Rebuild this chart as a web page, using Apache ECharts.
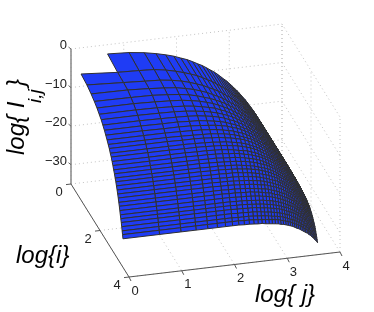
<!DOCTYPE html>
<html><head><meta charset="utf-8">
<style>html,body{margin:0;padding:0;background:#fff}#c{width:374px;height:312px}</style>
<script src="https://cdn.jsdelivr.net/npm/echarts@6/dist/echarts.min.js"></script>
</head><body><div id="c"></div>
<script>
// log(i) for rows i=1..36, log(j) for columns j=1..40
var logI=[0,.693,1.099,1.386,1.609,1.792,1.946,2.079,2.197,2.303,2.398,2.485,2.565,2.639,2.708,2.773,2.833,2.890,2.944,2.996,3.045,3.091,3.135,3.178,3.219,3.258,3.296,3.332,3.367,3.401,3.434,3.466,3.497,3.526,3.555,3.584];
var logJ=[0,.693,1.099,1.386,1.609,1.792,1.946,2.079,2.197,2.303,2.398,2.485,2.565,2.639,2.708,2.773,2.833,2.890,2.944,2.996,3.045,3.091,3.135,3.178,3.219,3.258,3.296,3.332,3.367,3.401,3.434,3.466,3.497,3.526,3.555,3.584,3.611,3.638,3.664,3.689];
// -log I(i,j), one row per i
var depth=[
[null,2.4,2.7,3.2,3.8,4.4,5.0,5.7,6.3,7.0,7.7,8.3,9.0,9.7,10.3,11.0,11.7,12.4,13.0,13.7,14.4,15.1,15.7,16.4,17.1,17.8,18.4,19.1,19.8,20.5,21.1,21.8,22.5,23.2,23.9,24.5,25.2,25.9,26.6,27.3],
[2.3,3.0,3.2,3.4,3.9,4.5,5.1,5.7,6.3,7.0,7.7,8.3,9.0,9.7,10.3,11.0,11.7,12.4,13.0,13.7,14.4,15.1,15.7,16.4,17.1,17.8,18.4,19.1,19.8,20.5,21.1,21.8,22.5,23.2,23.9,24.5,25.2,25.9,26.6,27.3],
[2.7,3.2,3.5,3.7,4.1,4.6,5.2,5.8,6.4,7.1,7.7,8.3,9.0,9.7,10.3,11.0,11.7,12.4,13.0,13.7,14.4,15.1,15.7,16.4,17.1,17.8,18.4,19.1,19.8,20.5,21.1,21.8,22.5,23.2,23.9,24.5,25.2,25.9,26.6,27.3],
[3.3,3.4,3.7,4.0,4.3,4.8,5.3,5.9,6.5,7.2,7.8,8.4,9.1,9.8,10.4,11.0,11.7,12.4,13.0,13.7,14.4,15.1,15.7,16.4,17.1,17.8,18.4,19.1,19.8,20.5,21.1,21.8,22.5,23.2,23.9,24.5,25.2,25.9,26.6,27.3],
[3.9,4.0,4.1,4.4,4.7,5.1,5.6,6.2,6.7,7.3,7.9,8.5,9.2,9.8,10.4,11.1,11.8,12.5,13.1,13.8,14.5,15.1,15.7,16.4,17.1,17.8,18.4,19.1,19.8,20.5,21.1,21.8,22.5,23.2,23.9,24.5,25.2,25.9,26.6,27.3],
[4.5,4.5,4.7,4.9,5.1,5.5,5.9,6.4,6.9,7.5,8.1,8.7,9.3,10.0,10.5,11.2,11.9,12.5,13.1,13.8,14.5,15.2,15.8,16.5,17.2,17.8,18.4,19.1,19.8,20.5,21.1,21.8,22.5,23.2,23.9,24.5,25.2,25.9,26.6,27.3],
[5.2,5.2,5.3,5.5,5.7,6.0,6.4,6.8,7.2,7.8,8.3,8.9,9.5,10.1,10.7,11.3,12.0,12.7,13.2,13.9,14.6,15.2,15.8,16.5,17.2,17.9,18.5,19.2,19.9,20.6,21.2,21.9,22.5,23.2,23.9,24.5,25.2,25.9,26.6,27.3],
[5.8,5.8,5.9,6.0,6.2,6.5,6.8,7.2,7.6,8.1,8.6,9.1,9.7,10.3,10.8,11.5,12.1,12.8,13.3,14.0,14.7,15.3,15.9,16.6,17.3,18.0,18.5,19.2,19.9,20.6,21.2,21.9,22.6,23.3,24.0,24.6,25.3,26.0,26.6,27.3],
[6.5,6.5,6.6,6.7,6.8,7.0,7.3,7.6,8.0,8.4,9.0,9.4,10.0,10.5,11.1,11.7,12.3,12.9,13.5,14.2,14.8,15.5,16.0,16.7,17.4,18.1,18.6,19.3,20.0,20.7,21.3,22.0,22.6,23.3,24.0,24.6,25.3,26.0,26.7,27.4],
[7.2,7.2,7.3,7.3,7.5,7.6,7.9,8.2,8.5,8.9,9.4,9.8,10.3,10.9,11.3,11.9,12.5,13.1,13.7,14.3,15.0,15.6,16.2,16.8,17.5,18.2,18.7,19.4,20.1,20.7,21.3,22.0,22.7,23.4,24.1,24.7,25.4,26.0,26.7,27.4],
[7.9,7.9,8.0,8.0,8.1,8.3,8.5,8.7,9.0,9.3,9.8,10.1,10.6,11.1,11.6,12.2,12.7,13.4,13.8,14.5,15.1,15.7,16.3,17.0,17.6,18.2,18.8,19.5,20.2,20.9,21.4,22.1,22.8,23.5,24.1,24.7,25.4,26.1,26.8,27.5],
[8.6,8.6,8.6,8.7,8.8,8.9,9.1,9.3,9.6,9.9,10.2,10.7,11.0,11.5,12.0,12.5,13.1,13.6,14.1,14.7,15.3,15.9,16.5,17.1,17.8,18.4,19.0,19.6,20.3,20.9,21.5,22.2,22.9,23.5,24.2,24.8,25.5,26.2,26.9,27.5],
[9.3,9.3,9.3,9.4,9.5,9.6,9.7,9.9,10.1,10.4,10.7,11.1,11.5,11.9,12.3,12.8,13.3,13.9,14.4,15.0,15.6,16.2,16.7,17.3,18.0,18.6,19.1,19.8,20.4,21.1,21.6,22.3,23.0,23.6,24.3,24.9,25.6,26.2,26.9,27.6],
[9.9,9.9,9.9,10.0,10.0,10.1,10.3,10.4,10.7,10.9,11.2,11.5,11.8,12.3,12.7,13.2,13.7,14.2,14.7,15.2,15.8,16.4,17.0,17.5,18.2,18.7,19.3,19.9,20.6,21.2,21.8,22.4,23.1,23.7,24.4,25.0,25.7,26.4,27.0,27.7],
[10.7,10.7,10.7,10.7,10.8,10.9,11.0,11.2,11.3,11.6,11.8,12.1,12.4,12.8,13.3,13.6,14.1,14.6,15.0,15.6,16.1,16.7,17.2,17.8,18.4,19.0,19.5,20.1,20.7,21.4,21.9,22.6,23.3,23.9,24.5,25.1,25.8,26.5,27.2,27.8],
[11.3,11.3,11.3,11.4,11.4,11.5,11.6,11.7,11.9,12.1,12.3,12.6,12.9,13.2,13.6,14.0,14.5,15.0,15.4,15.9,16.4,17.0,17.5,18.0,18.6,19.2,19.7,20.3,21.0,21.5,22.1,22.8,23.4,24.1,24.7,25.3,25.9,26.6,27.2,27.9],
[12.1,12.1,12.1,12.1,12.2,12.2,12.3,12.4,12.6,12.8,13.1,13.3,13.5,13.9,14.2,14.6,15.0,15.5,15.8,16.2,16.8,17.3,17.8,18.3,18.9,19.5,20.0,20.6,21.2,21.8,22.3,22.9,23.6,24.2,24.9,25.4,26.1,26.7,27.4,28.0],
[12.8,12.8,12.8,12.8,12.9,12.9,13.0,13.1,13.3,13.4,13.6,13.9,14.1,14.4,14.7,15.0,15.4,15.8,16.2,16.7,17.1,17.7,18.1,18.7,19.2,19.8,20.2,20.9,21.4,22.0,22.5,23.1,23.8,24.4,25.0,25.6,26.2,26.9,27.5,28.2],
[13.6,13.6,13.6,13.6,13.6,13.7,13.7,13.9,14.0,14.1,14.3,14.5,14.8,15.0,15.3,15.6,16.0,16.4,16.8,17.2,17.6,18.1,18.5,19.0,19.5,20.1,20.6,21.1,21.7,22.3,22.8,23.4,24.0,24.6,25.3,25.8,26.5,27.0,27.7,28.4],
[14.3,14.3,14.3,14.3,14.3,14.4,14.5,14.6,14.7,14.8,15.0,15.1,15.4,15.6,15.9,16.2,16.5,16.8,17.2,17.6,18.0,18.5,18.9,19.4,19.9,20.4,20.9,21.5,22.0,22.6,23.1,23.7,24.3,24.8,25.5,26.0,26.6,27.2,27.9,28.5],
[15.1,15.1,15.1,15.1,15.1,15.2,15.2,15.3,15.4,15.5,15.7,15.9,16.1,16.3,16.6,16.9,17.1,17.4,17.7,18.2,18.5,19.0,19.4,19.9,20.3,20.8,21.2,21.8,22.3,22.9,23.4,24.0,24.6,25.2,25.8,26.2,26.8,27.5,28.0,28.7],
[15.8,15.8,15.8,15.8,15.8,15.9,15.9,16.0,16.1,16.2,16.4,16.5,16.7,16.9,17.1,17.4,17.7,18.0,18.3,18.7,19.0,19.4,19.9,20.2,20.7,21.2,21.6,22.2,22.7,23.2,23.7,24.2,24.8,25.4,26.0,26.5,27.0,27.7,28.3,29.0],
[16.6,16.6,16.6,16.6,16.6,16.7,16.7,16.8,16.8,16.9,17.1,17.2,17.4,17.6,17.8,18.1,18.3,18.6,18.9,19.2,19.5,20.0,20.4,20.8,21.2,21.6,22.1,22.6,23.1,23.6,24.0,24.6,25.2,25.7,26.3,26.9,27.4,28.0,28.6,29.2],
[17.4,17.4,17.4,17.4,17.4,17.4,17.5,17.6,17.6,17.7,17.8,18.0,18.1,18.3,18.5,18.8,19.0,19.3,19.6,19.8,20.1,20.5,20.8,21.2,21.7,22.2,22.5,23.0,23.5,24.0,24.4,25.0,25.5,26.1,26.7,27.1,27.7,28.3,28.9,29.5],
[18.2,18.2,18.2,18.2,18.2,18.2,18.3,18.3,18.4,18.5,18.6,18.7,18.9,19.0,19.2,19.4,19.7,19.9,20.2,20.5,20.8,21.0,21.4,21.8,22.2,22.6,23.1,23.4,24.0,24.4,24.8,25.3,25.9,26.5,27.0,27.5,28.0,28.6,29.2,29.8],
[19.0,19.0,19.0,19.0,19.0,19.0,19.1,19.1,19.2,19.3,19.4,19.5,19.6,19.8,20.0,20.1,20.3,20.6,20.8,21.1,21.4,21.7,22.0,22.4,22.8,23.1,23.6,24.0,24.4,24.9,25.3,25.8,26.4,26.8,27.4,27.9,28.4,28.9,29.6,30.1],
[19.9,19.9,19.9,19.9,19.9,19.9,19.9,20.0,20.0,20.1,20.2,20.3,20.5,20.6,20.8,20.9,21.1,21.4,21.6,21.9,22.1,22.5,22.7,23.0,23.4,23.7,24.2,24.6,25.0,25.4,25.8,26.3,26.7,27.3,27.7,28.2,28.8,29.3,29.9,30.5],
[20.7,20.7,20.7,20.7,20.7,20.7,20.7,20.8,20.8,20.9,21.0,21.0,21.2,21.3,21.5,21.7,21.8,22.0,22.4,22.5,22.8,23.1,23.4,23.6,24.0,24.3,24.6,25.1,25.5,25.9,26.4,26.8,27.3,27.6,28.2,28.6,29.1,29.7,30.3,30.8],
[21.6,21.6,21.6,21.6,21.6,21.6,21.6,21.6,21.7,21.8,21.8,21.9,22.0,22.1,22.3,22.4,22.6,22.8,23.0,23.3,23.5,23.8,24.1,24.4,24.6,24.9,25.3,25.7,26.1,26.5,26.9,27.3,27.8,28.2,28.6,29.1,29.5,30.1,30.6,31.2],
[22.5,22.5,22.5,22.5,22.5,22.5,22.5,22.5,22.6,22.6,22.7,22.8,22.9,23.0,23.1,23.3,23.4,23.6,23.8,24.0,24.3,24.5,24.8,25.1,25.4,25.6,25.9,26.3,26.6,27.1,27.4,27.9,28.3,28.8,29.1,29.6,30.0,30.6,31.0,31.5],
[23.3,23.3,23.3,23.3,23.3,23.3,23.3,23.3,23.4,23.4,23.5,23.6,23.7,23.8,23.9,24.1,24.2,24.4,24.6,24.8,25.0,25.3,25.5,25.7,26.0,26.3,26.6,26.9,27.3,27.6,28.1,28.4,28.9,29.3,29.7,30.1,30.6,31.0,31.4,32.0],
[24.1,24.1,24.1,24.1,24.1,24.1,24.1,24.1,24.2,24.2,24.3,24.3,24.4,24.6,24.7,24.8,25.0,25.1,25.3,25.4,25.7,25.9,26.2,26.4,26.7,26.9,27.2,27.5,27.9,28.2,28.6,28.9,29.3,29.8,30.2,30.6,31.1,31.5,32.0,32.5],
[25.0,25.0,25.0,25.0,25.0,25.0,25.0,25.0,25.1,25.1,25.2,25.2,25.3,25.4,25.6,25.7,25.8,26.0,26.1,26.3,26.5,26.7,27.0,27.1,27.4,27.7,28.0,28.3,28.6,28.9,29.2,29.6,30.0,30.4,30.7,31.2,31.6,32.1,32.4,33.1],
[25.9,25.9,25.9,25.9,25.9,25.9,25.9,25.9,26.0,26.0,26.0,26.1,26.2,26.3,26.4,26.5,26.7,26.8,26.9,27.1,27.2,27.5,27.7,28.0,28.2,28.4,28.7,29.0,29.2,29.6,29.9,30.2,30.6,30.8,31.4,31.8,32.2,32.6,33.0,33.5],
[26.7,26.7,26.7,26.7,26.7,26.7,26.7,26.7,26.7,26.8,26.8,26.9,27.0,27.1,27.2,27.3,27.4,27.5,27.6,27.8,28.0,28.2,28.4,28.6,28.9,29.1,29.4,29.6,29.9,30.2,30.5,30.9,31.1,31.6,31.8,32.4,32.6,33.2,33.5,34.1],
[27.6,27.6,27.6,27.6,27.6,27.6,27.6,27.6,27.6,27.7,27.7,27.8,27.9,27.9,28.1,28.2,28.3,28.4,28.5,28.7,28.8,29.0,29.2,29.4,29.6,29.9,30.2,30.4,30.7,31.0,31.3,31.6,31.8,32.2,32.5,32.9,33.3,33.7,34.1,34.6]
];
var iTicks=[0,2,4];
var jTicks=[0,1,2,3,4];
var zTicks=[0,-10,-20,-30];
var zTickLabels=['0','\u221210','\u221220','\u221230'];
var zFloor=-35, iMax=4, jMax=4;

// orthographic view of the 3-D box onto the hidden plane axes
function proj(li,lj,z){
  return [71+14.5*li+52.75*lj, 184+23.25*li-6.25*lj-3.857*(z-zFloor)];
}
function line3(a,b){return [proj(a[0],a[1],a[2]),proj(b[0],b[1],b[2])];}

var gridLines=[];
zTicks.forEach(function(z){
  gridLines.push(line3([0,0,z],[0,jMax,z]));
  gridLines.push(line3([0,jMax,z],[iMax,jMax,z]));
});
jTicks.forEach(function(j){
  gridLines.push(line3([0,j,zFloor],[iMax,j,zFloor]));
  gridLines.push(line3([0,j,zFloor],[0,j,0]));
});
iTicks.forEach(function(i){
  gridLines.push(line3([i,0,zFloor],[i,jMax,zFloor]));
  gridLines.push(line3([i,jMax,zFloor],[i,jMax,0]));
});

var cells=[];
for(var r=0;r<logI.length-1;r++){
  for(var c=logJ.length-2;c>=0;c--){
    if(depth[r][c]==null||depth[r+1][c]==null||depth[r][c+1]==null||depth[r+1][c+1]==null)continue;
    cells.push([r,c]);
  }
}
function corner(api,r,c){return api.coord(proj(logI[r],logJ[c],-depth[r][c]));}

var axisLines=[];
axisLines.push({p:line3([0,0,0],[0,0,zFloor]),color:'#8f8f8f',w:1.6});
axisLines.push({p:line3([0,0,zFloor],[iMax,0,zFloor]),color:'#555',w:1});
axisLines.push({p:line3([iMax,0,zFloor],[iMax,jMax,zFloor]),color:'#555',w:1});
zTicks.forEach(function(z){var a=proj(0,0,z);axisLines.push({p:[a,[a[0]-2.5,a[1]-2]],color:'#666',w:1});});
iTicks.forEach(function(i){var a=proj(i,0,zFloor);axisLines.push({p:[a,[a[0]-5,a[1]+.6]],color:'#555',w:1});});
jTicks.forEach(function(j){var a=proj(iMax,j,zFloor);axisLines.push({p:[a,[a[0]+2,a[1]+4]],color:'#555',w:1});});

var tickTexts=[];
zTicks.forEach(function(z,k){var a=proj(0,0,z);tickTexts.push({x:a[0]-4,y:a[1]-3.5,t:zTickLabels[k],al:'right'});});
iTicks.forEach(function(i){var a=proj(i,0,zFloor);tickTexts.push({x:a[0]-12,y:a[1]+8.5,t:String(i),al:'center'});});
jTicks.forEach(function(j){var a=proj(iMax,j,zFloor);tickTexts.push({x:a[0]+6,y:a[1]+14,t:String(j),al:'center'});});

var chart=echarts.init(document.getElementById('c'),null,{renderer:'canvas'});
var ff='"Liberation Sans",Arial,sans-serif';
function title(x,y,t,size,rot,al){
  return {type:'text',x:x,y:y,rotation:rot,silent:true,style:{text:t,fill:'#000',font:'italic '+size+'px '+ff,textAlign:al||'left',textVerticalAlign:'middle',textBaseline:'middle'}};
}
chart.setOption({
  animation:false,
  backgroundColor:'#fff',
  grid:{left:0,right:0,top:0,bottom:0},
  xAxis:{type:'value',min:0,max:374,show:false},
  yAxis:{type:'value',min:0,max:312,inverse:true,show:false},
  graphic:[
    title(17,155,'log{ I',24,Math.PI/2),
    title(36,103,'i,j',19,Math.PI/2),
    title(17,87,'}',24,Math.PI/2),
    title(16,256,'log{i}',24,0),
    title(255,295,'log{ j}',24,0)
  ],
  series:[
   {type:'custom',coordinateSystem:'cartesian2d',silent:true,z:1,data:gridLines.map(function(l,k){return [k];}),
    renderItem:function(p,api){var l=gridLines[api.value(0)];
      return {type:'polyline',shape:{points:[api.coord(l[0]),api.coord(l[1])]},style:{stroke:'#c4c4c4',lineWidth:1,lineDash:[1,3],fill:null}};},
    encode:{x:0,y:0}},
   {type:'custom',coordinateSystem:'cartesian2d',silent:true,z:2,data:axisLines.map(function(l,k){return [k];}),
    renderItem:function(p,api){var l=axisLines[api.value(0)];
      return {type:'polyline',shape:{points:[api.coord(l.p[0]),api.coord(l.p[1])]},style:{stroke:l.color,lineWidth:l.w,fill:null}};},
    encode:{x:0,y:0}},
   {type:'custom',coordinateSystem:'cartesian2d',silent:true,z:3,data:cells,progressive:0,
    renderItem:function(p,api){var r=api.value(0),c=api.value(1);
      return {type:'polygon',shape:{points:[corner(api,r,c),corner(api,r,c+1),corner(api,r+1,c+1),corner(api,r+1,c)]},
        style:{fill:'#1f3cf5',stroke:'#303030',lineWidth:1}};},
    encode:{x:0,y:1}},
   {type:'custom',coordinateSystem:'cartesian2d',silent:true,z:4,data:tickTexts.map(function(l,k){return [k];}),
    renderItem:function(p,api){var l=tickTexts[api.value(0)];var q=api.coord([l.x,l.y]);
      return {type:'text',x:q[0],y:q[1],style:{text:l.t,fill:'#222',font:'13px '+ff,textAlign:l.al,textVerticalAlign:'middle',verticalAlign:'middle'}};},
    encode:{x:0,y:0}}
  ]
});
</script></body></html>
